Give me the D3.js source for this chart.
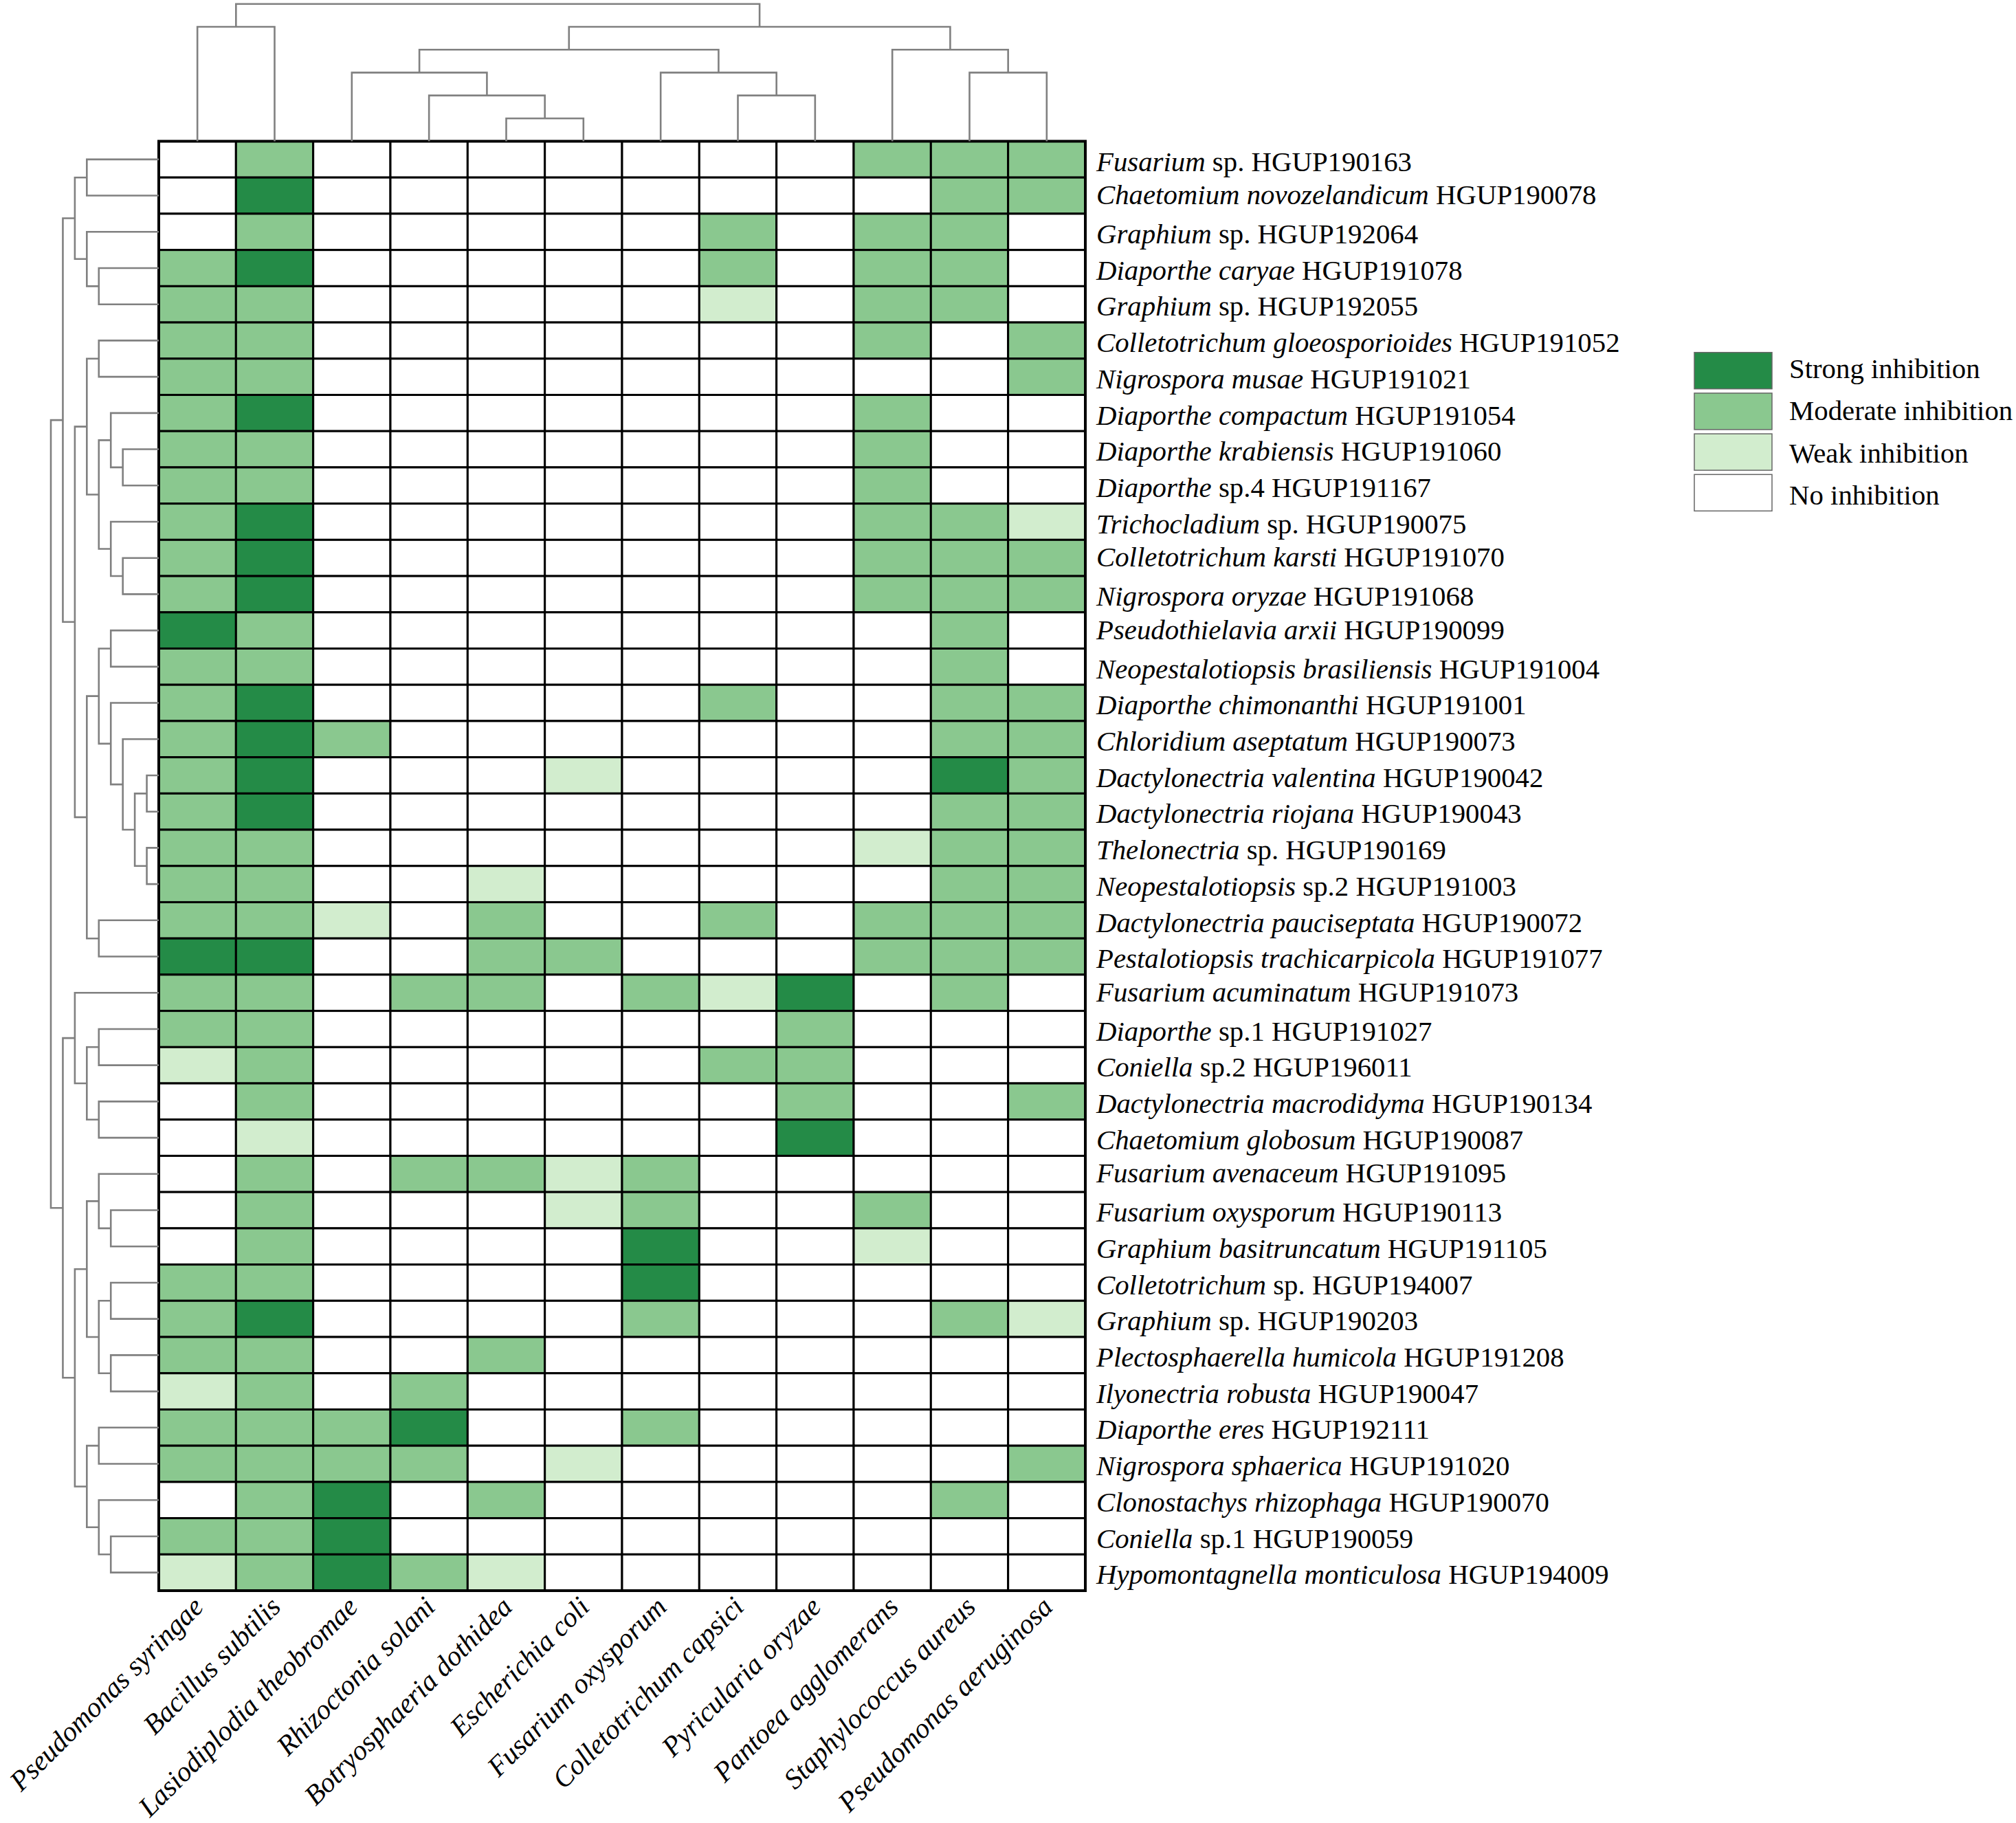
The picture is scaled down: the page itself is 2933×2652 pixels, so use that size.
<!DOCTYPE html>
<html>
<head>
<meta charset="utf-8">
<script src="https://cdn.jsdelivr.net/npm/d3@7"></script>
<style>
body { margin: 0; background: white; }
text { font-family: "Liberation Serif", serif; fill: #000; }
</style>
</head>
<body>
<div id="vis"></div>
<script>
const width = 2933;
const height = 2652;
const grid = { left: 231, right: 1579, top: 205.5, bottom: 2314 };

const colNames = ["Pseudomonas syringae", "Bacillus subtilis", "Lasiodiplodia theobromae", "Rhizoctonia solani",
    "Botryosphaeria dothidea", "Escherichia coli", "Fusarium oxysporum", "Colletotrichum capsici",
    "Pyricularia oryzae", "Pantoea agglomerans", "Staphylococcus aureus", "Pseudomonas aeruginosa"];

const rowItalic = ["Fusarium", "Chaetomium novozelandicum", "Graphium", "Diaporthe caryae", "Graphium",
    "Colletotrichum gloeosporioides", "Nigrospora musae", "Diaporthe compactum", "Diaporthe krabiensis", "Diaporthe",
    "Trichocladium", "Colletotrichum karsti", "Nigrospora oryzae", "Pseudothielavia arxii", "Neopestalotiopsis brasiliensis",
    "Diaporthe chimonanthi", "Chloridium aseptatum", "Dactylonectria valentina", "Dactylonectria riojana", "Thelonectria",
    "Neopestalotiopsis", "Dactylonectria pauciseptata", "Pestalotiopsis trachicarpicola", "Fusarium acuminatum", "Diaporthe",
    "Coniella", "Dactylonectria macrodidyma", "Chaetomium globosum", "Fusarium avenaceum", "Fusarium oxysporum",
    "Graphium basitruncatum", "Colletotrichum", "Graphium", "Plectosphaerella humicola", "Ilyonectria robusta",
    "Diaporthe eres", "Nigrospora sphaerica", "Clonostachys rhizophaga", "Coniella", "Hypomontagnella monticulosa"];

const rowRest = ["sp. HGUP190163", "HGUP190078", "sp. HGUP192064", "HGUP191078", "sp. HGUP192055",
    "HGUP191052", "HGUP191021", "HGUP191054", "HGUP191060", "sp.4 HGUP191167",
    "sp. HGUP190075", "HGUP191070", "HGUP191068", "HGUP190099", "HGUP191004",
    "HGUP191001", "HGUP190073", "HGUP190042", "HGUP190043", "sp. HGUP190169",
    "sp.2 HGUP191003", "HGUP190072", "HGUP191077", "HGUP191073", "sp.1 HGUP191027",
    "sp.2 HGUP196011", "HGUP190134", "HGUP190087", "HGUP191095", "HGUP190113",
    "HGUP191105", "sp. HGUP194007", "sp. HGUP190203", "HGUP191208", "HGUP190047",
    "HGUP192111", "HGUP191020", "HGUP190070", "sp.1 HGUP190059", "HGUP194009"];

// 0 none, 1 weak, 2 moderate, 3 strong
const levels = [
    [0,2,0,0,0,0,0,0,0,2,2,2],
    [0,3,0,0,0,0,0,0,0,0,2,2],
    [0,2,0,0,0,0,0,2,0,2,2,0],
    [2,3,0,0,0,0,0,2,0,2,2,0],
    [2,2,0,0,0,0,0,1,0,2,2,0],
    [2,2,0,0,0,0,0,0,0,2,0,2],
    [2,2,0,0,0,0,0,0,0,0,0,2],
    [2,3,0,0,0,0,0,0,0,2,0,0],
    [2,2,0,0,0,0,0,0,0,2,0,0],
    [2,2,0,0,0,0,0,0,0,2,0,0],
    [2,3,0,0,0,0,0,0,0,2,2,1],
    [2,3,0,0,0,0,0,0,0,2,2,2],
    [2,3,0,0,0,0,0,0,0,2,2,2],
    [3,2,0,0,0,0,0,0,0,0,2,0],
    [2,2,0,0,0,0,0,0,0,0,2,0],
    [2,3,0,0,0,0,0,2,0,0,2,2],
    [2,3,2,0,0,0,0,0,0,0,2,2],
    [2,3,0,0,0,1,0,0,0,0,3,2],
    [2,3,0,0,0,0,0,0,0,0,2,2],
    [2,2,0,0,0,0,0,0,0,1,2,2],
    [2,2,0,0,1,0,0,0,0,0,2,2],
    [2,2,1,0,2,0,0,2,0,2,2,2],
    [3,3,0,0,2,2,0,0,0,2,2,2],
    [2,2,0,2,2,0,2,1,3,0,2,0],
    [2,2,0,0,0,0,0,0,2,0,0,0],
    [1,2,0,0,0,0,0,2,2,0,0,0],
    [0,2,0,0,0,0,0,0,2,0,0,2],
    [0,1,0,0,0,0,0,0,3,0,0,0],
    [0,2,0,2,2,1,2,0,0,0,0,0],
    [0,2,0,0,0,1,2,0,0,2,0,0],
    [0,2,0,0,0,0,3,0,0,1,0,0],
    [2,2,0,0,0,0,3,0,0,0,0,0],
    [2,3,0,0,0,0,2,0,0,0,2,1],
    [2,2,0,0,2,0,0,0,0,0,0,0],
    [1,2,0,2,0,0,0,0,0,0,0,0],
    [2,2,2,3,0,0,2,0,0,0,0,0],
    [2,2,2,2,0,1,0,0,0,0,0,2],
    [0,2,3,0,2,0,0,0,0,0,2,0],
    [2,2,3,0,0,0,0,0,0,0,0,0],
    [1,2,3,2,1,0,0,0,0,0,0,0]
];

const legendLabels = ["Strong inhibition", "Moderate inhibition", "Weak inhibition", "No inhibition"];
const legendLevels = [3, 2, 1, 0];
const levelColors = ["#ffffff", "#d2edce", "#8ac88f", "#248b47"];

// dendrograms: [merge level, child, child], plain numbers are leaf indexes
const rowTree = [9,
    [8,
        [7, [6, 0, 1], [6, 2, [5, 3, 4]]],
        [7,
            [6, [5, 5, 6], [5, [4, 7, [3, 8, 9]], [4, 10, [3, 11, 12]]]],
            [6,
                [5, [4, 13, 14], [4, 15, [3, 16, [2, [1, 17, 18], [1, 19, 20]]]]],
                [5, 21, 22]]]],
    [8,
        [7, 23, [6, [5, 24, 25], [5, 26, 27]]],
        [7,
            [6, [5, 28, [4, 29, 30]], [5, [4, 31, 32], [4, 33, 34]]],
            [6, [5, 35, 36], [5, 37, [4, 38, 39]]]]]];

const colTree = [6,
    [5, 0, 1],
    [5,
        [4, [3, 2, [2, 3, [1, 4, 5]]], [3, 6, [2, 7, 8]]],
        [4, 9, [3, 10, 11]]]];

// these row labels sit a little higher in the figure
const raisedRows = [1, 11, 13, 23, 28];

const svg = d3.select("#vis").append("svg")
    .attr("width", width)
    .attr("height", height);

const xScale = d3.scaleBand().domain(d3.range(colNames.length)).range([grid.left, grid.right]);
const yScale = d3.scaleBand().domain(d3.range(rowItalic.length)).range([grid.top, grid.bottom]);
const colorScale = d3.scaleOrdinal().domain([0, 1, 2, 3]).range(levelColors);

// merge level to pixel distance from the grid
const rowDepth = d3.scaleLinear().domain([0, 9]).range([grid.left, 74]);
const colDepth = d3.scaleLinear().domain([0, 6]).range([grid.top, 5.7]);

// heat cells
const cells = levels.flatMap((row, r) => row.map((v, c) => ({ r, c, v })));
svg.append("g").selectAll("rect")
    .data(cells)
    .enter()
    .append("rect")
    .attr("x", d => xScale(d.c))
    .attr("y", d => yScale(d.r))
    .attr("width", xScale.bandwidth())
    .attr("height", yScale.bandwidth())
    .attr("fill", d => colorScale(d.v))
    .attr("stroke", "#000")
    .attr("stroke-width", 3);

svg.append("rect")
    .attr("x", grid.left)
    .attr("y", grid.top)
    .attr("width", grid.right - grid.left)
    .attr("height", grid.bottom - grid.top)
    .attr("fill", "none")
    .attr("stroke", "#000")
    .attr("stroke-width", 4);

// walks a tree and returns one path per merge
function treePaths(node, leafPos, depth, horizontal) {
    const paths = [];
    function walk(n) {
        if (typeof n === "number") return { pos: leafPos(n), h: depth(0) };
        const a = walk(n[1]);
        const b = walk(n[2]);
        const h = depth(n[0]);
        const pts = [[a.pos, a.h], [a.pos, h], [b.pos, h], [b.pos, b.h]];
        paths.push(horizontal ? pts.map(p => [p[1], p[0]]) : pts);
        return { pos: (a.pos + b.pos) / 2, h };
    }
    walk(node);
    return paths;
}

const line = d3.line();

svg.append("g").selectAll("path")
    .data(treePaths(rowTree, i => yScale(i) + yScale.bandwidth() / 2, rowDepth, true))
    .enter()
    .append("path")
    .attr("d", line)
    .attr("fill", "none")
    .attr("stroke", "#808080")
    .attr("stroke-width", 2.6);

svg.append("g").selectAll("path")
    .data(treePaths(colTree, i => xScale(i) + xScale.bandwidth() / 2, colDepth, false))
    .enter()
    .append("path")
    .attr("d", line)
    .attr("fill", "none")
    .attr("stroke", "#808080")
    .attr("stroke-width", 2.6);

// row labels
const rowText = svg.append("g").selectAll("text")
    .data(rowItalic)
    .enter()
    .append("text")
    .attr("x", 1595)
    .attr("y", (d, i) => yScale(i) + yScale.bandwidth() / 2 + (raisedRows.includes(i) ? 12.6 : 16.7))
    .attr("font-size", 40.8);
rowText.append("tspan").attr("font-style", "italic").text(d => d);
rowText.append("tspan").text((d, i) => " " + rowRest[i]);

// column labels
svg.append("g").selectAll("text")
    .data(colNames)
    .enter()
    .append("text")
    .attr("transform", (d, i) => `translate(${xScale(i) + xScale.bandwidth() / 2 + 11},${grid.bottom + 26}) rotate(-45)`)
    .attr("text-anchor", "end")
    .attr("font-size", 40.9)
    .attr("font-style", "italic")
    .text(d => d);

// legend
const swatchY = d3.scaleBand().domain(d3.range(legendLabels.length)).range([512.7, 749.5]);
const legendTextY = d3.scalePoint().domain(d3.range(legendLabels.length)).range([550, 734]);
svg.append("g").selectAll("rect")
    .data(legendLabels)
    .enter()
    .append("rect")
    .attr("x", 2465)
    .attr("y", (d, i) => swatchY(i))
    .attr("width", 113)
    .attr("height", 53)
    .attr("fill", (d, i) => colorScale(legendLevels[i]))
    .attr("stroke", "#666")
    .attr("stroke-width", 1.5);
svg.append("g").selectAll("text")
    .data(legendLabels)
    .enter()
    .append("text")
    .attr("x", 2603)
    .attr("y", (d, i) => legendTextY(i))
    .attr("font-size", 40.8)
    .text(d => d);
</script>
</body>
</html>
